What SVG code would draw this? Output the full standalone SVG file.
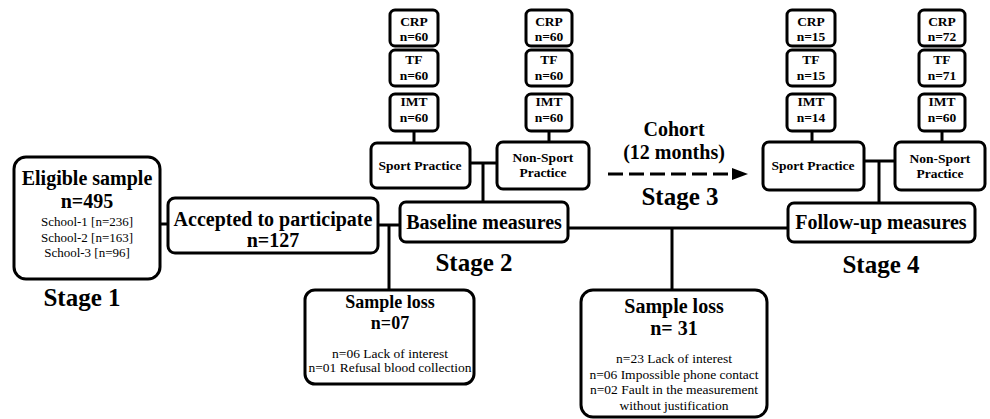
<svg xmlns="http://www.w3.org/2000/svg" width="990" height="419" viewBox="0 0 990 419">
<style>
.box{fill:#fff;stroke:#000;stroke-width:3}
.ln{stroke:#000;stroke-width:3;fill:none}
text{font-family:"Liberation Serif","Times New Roman",serif;text-anchor:middle;fill:#000}
.b20{font-size:20px;font-weight:bold}
.b18{font-size:18px;font-weight:bold}
.st{font-size:25px;font-weight:bold}
.sm{font-size:13.5px;font-weight:bold}
.r13{font-size:13px}
.r135{font-size:13.5px}
</style>
<rect width="990" height="419" fill="#fff"/>
<g id="connectors">
<line class="ln" x1="160" y1="224" x2="168" y2="224"/>
<line class="ln" x1="378" y1="225" x2="400" y2="225"/>
<line class="ln" x1="389" y1="225" x2="389" y2="290"/>
<line class="ln" x1="568" y1="228" x2="788" y2="228"/>
<line class="ln" x1="672" y1="228" x2="672" y2="290"/>
<line class="ln" x1="470" y1="163" x2="497" y2="163"/>
<line class="ln" x1="483" y1="163" x2="483" y2="202"/>
<line class="ln" x1="414" y1="131" x2="414" y2="143"/>
<line class="ln" x1="549" y1="131" x2="549" y2="142"/>
<line class="ln" x1="864" y1="161" x2="895" y2="161"/>
<line class="ln" x1="879" y1="161" x2="879" y2="203"/>
<line class="ln" x1="812" y1="131" x2="812" y2="142"/>
<line class="ln" x1="942" y1="131" x2="942" y2="142"/>
<line class="ln" x1="608" y1="174" x2="735" y2="174" stroke-width="4" stroke-dasharray="15 6"/>
<polygon points="732,168 748,174 732,180" fill="#000"/>
</g>
<g id="eligible">
<rect class="box" x="14" y="157" width="146" height="122" rx="12"/>
<text class="b20" x="87" y="185">Eligible sample</text>
<text class="b20" x="87" y="208">n=495</text>
<text class="r13" x="87" y="226">School-1 [n=236]</text>
<text class="r13" x="87" y="242">School-2 [n=163]</text>
<text class="r13" x="87" y="257">School-3 [n=96]</text>
</g>
<g id="stage1"><text class="st" x="82" y="306">Stage 1</text></g>
<g id="accepted">
<rect class="box" x="168" y="198" width="210" height="55" rx="7"/>
<text class="b20" x="273" y="226">Accepted to participate</text>
<text class="b20" x="273" y="247">n=127</text>
</g>
<g id="baseline">
<rect class="box" x="400" y="202" width="168" height="40" rx="6"/>
<text class="b20" x="484" y="229">Baseline measures</text>
</g>
<g id="stage2"><text class="st" x="474" y="271">Stage 2</text></g>
<g id="followup">
<rect class="box" x="788" y="203" width="187" height="39" rx="6"/>
<text class="b20" x="881" y="229">Follow-up measures</text>
</g>
<g id="stage4"><text class="st" x="881" y="273">Stage 4</text></g>
<g id="cohort">
<text class="b20" x="674" y="136">Cohort</text>
<text class="b20" x="674" y="159">(12 months)</text>
<text class="st" x="680" y="205">Stage 3</text>
</g>
<g id="sport1">
<rect class="box" x="371" y="143" width="99" height="45" rx="6"/>
<text class="sm" x="420" y="170">Sport Practice</text>
</g>
<g id="nonsport1">
<rect class="box" x="497" y="142" width="92" height="47" rx="6"/>
<text class="sm" x="543" y="162">Non-Sport</text>
<text class="sm" x="543" y="177">Practice</text>
</g>
<g id="crp1">
<rect class="box" x="390" y="10" width="48" height="36" rx="5"/>
<text class="sm" x="414" y="26">CRP</text><text class="sm" x="414" y="41">n=60</text>
</g>
<g id="tf1">
<rect class="box" x="390" y="50" width="48" height="36" rx="5"/>
<text class="sm" x="414" y="64">TF</text><text class="sm" x="414" y="80">n=60</text>
</g>
<g id="imt1">
<rect class="box" x="390" y="94" width="48" height="37" rx="5"/>
<text class="sm" x="414" y="106">IMT</text><text class="sm" x="414" y="122">n=60</text>
</g>
<g id="crp2">
<rect class="box" x="526" y="10" width="46" height="36" rx="5"/>
<text class="sm" x="549" y="26">CRP</text><text class="sm" x="549" y="41">n=60</text>
</g>
<g id="tf2">
<rect class="box" x="526" y="50" width="46" height="36" rx="5"/>
<text class="sm" x="549" y="64">TF</text><text class="sm" x="549" y="80">n=60</text>
</g>
<g id="imt2">
<rect class="box" x="526" y="94" width="46" height="37" rx="5"/>
<text class="sm" x="549" y="106">IMT</text><text class="sm" x="549" y="122">n=60</text>
</g>
<g id="sport2">
<rect class="box" x="763" y="142" width="101" height="48" rx="6"/>
<text class="sm" x="813" y="170">Sport Practice</text>
</g>
<g id="nonsport2">
<rect class="box" x="895" y="142" width="90" height="48" rx="6"/>
<text class="sm" x="940" y="163">Non-Sport</text>
<text class="sm" x="940" y="178">Practice</text>
</g>
<g id="crp3">
<rect class="box" x="787" y="10" width="48" height="36" rx="5"/>
<text class="sm" x="811" y="26">CRP</text><text class="sm" x="811" y="41">n=15</text>
</g>
<g id="tf3">
<rect class="box" x="787" y="50" width="48" height="36" rx="5"/>
<text class="sm" x="811" y="64">TF</text><text class="sm" x="811" y="80">n=15</text>
</g>
<g id="imt3">
<rect class="box" x="787" y="94" width="48" height="37" rx="5"/>
<text class="sm" x="811" y="106">IMT</text><text class="sm" x="811" y="122">n=14</text>
</g>
<g id="crp4">
<rect class="box" x="919" y="10" width="46" height="36" rx="5"/>
<text class="sm" x="942" y="26">CRP</text><text class="sm" x="942" y="41">n=72</text>
</g>
<g id="tf4">
<rect class="box" x="919" y="50" width="46" height="36" rx="5"/>
<text class="sm" x="942" y="64">TF</text><text class="sm" x="942" y="80">n=71</text>
</g>
<g id="imt4">
<rect class="box" x="919" y="94" width="46" height="37" rx="5"/>
<text class="sm" x="942" y="106">IMT</text><text class="sm" x="942" y="122">n=60</text>
</g>
<g id="loss1">
<rect class="box" x="305" y="290" width="169" height="94" rx="10"/>
<text class="b18" x="390" y="308">Sample loss</text>
<text class="b18" x="390" y="329">n=07</text>
<text class="r135" x="390" y="358">n=06 Lack of interest</text>
<text class="r135" x="390" y="372">n=01 Refusal blood collection</text>
</g>
<g id="loss2">
<rect class="box" x="581" y="290" width="186" height="127" rx="12"/>
<text class="b20" x="674" y="313">Sample loss</text>
<text class="b20" x="674" y="335">n= 31</text>
<text class="r135" x="674" y="363">n=23 Lack of interest</text>
<text class="r135" x="674" y="379">n=06 Impossible phone contact</text>
<text class="r135" x="674" y="394">n=02 Fault in the measurement</text>
<text class="r135" x="674" y="410">without justification</text>
</g>
</svg>
